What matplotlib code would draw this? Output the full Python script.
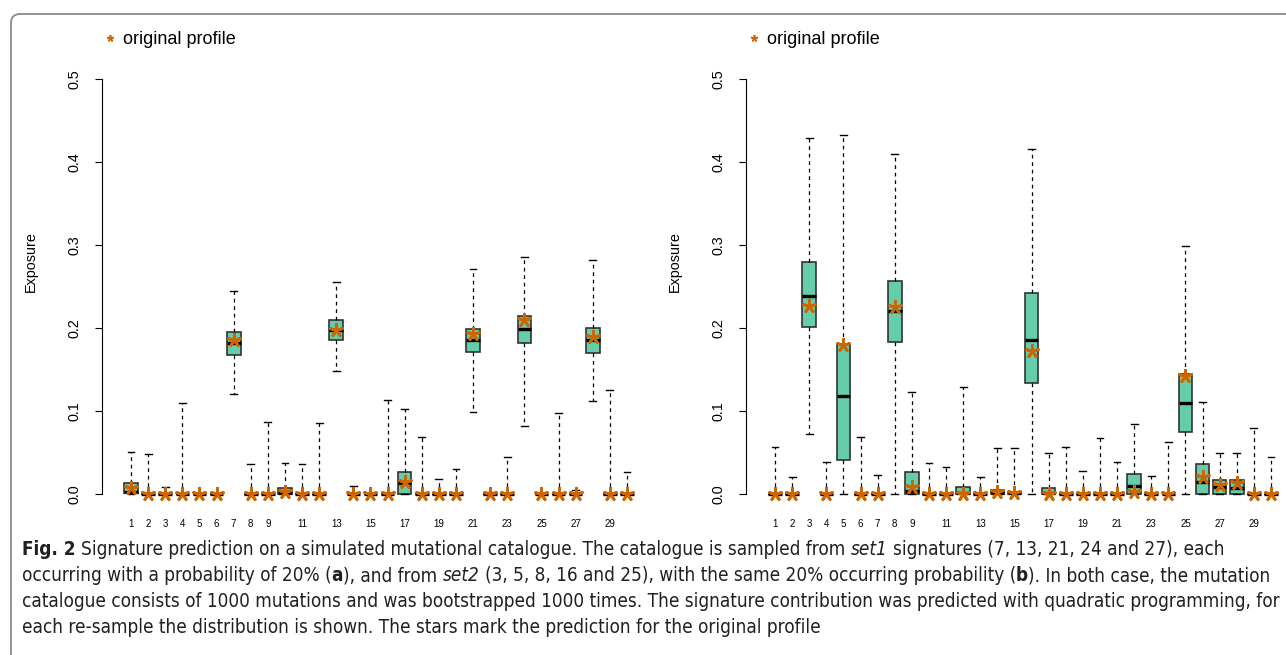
import matplotlib
matplotlib.use("Agg")
import matplotlib.pyplot as plt
from matplotlib.lines import Line2D
from matplotlib.patches import FancyBboxPatch

plt.rcParams["font.family"] = ["Liberation Sans", "DejaVu Sans"]

W, H = 1286, 655

signatures = list(range(1, 31))
xtick_pos = [1, 2, 3, 4, 5, 6, 7, 8, 9, 11, 13, 15, 17, 19, 21, 23, 25, 27, 29]
ytick_pos = [0.0, 0.1, 0.2, 0.3, 0.4, 0.5]

# (a) set1: bootstrap distributions per signature
med_a = [0.002, 0, 0, 0, 0, 0, 0.182, 0, 0, 0.001, 0, 0, 0.197, 0, 0,
         0, 0.013, 0, 0, 0, 0.185, 0, 0, 0.199, 0, 0, 0, 0.185, 0, 0]
q1_a = [0.001, 0, 0, 0, 0, 0, 0.168, 0, 0, 0, 0, 0, 0.185, 0, 0,
        0, 0, 0, 0, 0, 0.171, 0, 0, 0.1825, 0, 0, 0, 0.170, 0, 0]
q3_a = [0.0136, 0, 0, 0, 0, 0, 0.195, 0, 0, 0.007, 0, 0, 0.210, 0, 0,
        0, 0.0265, 0, 0, 0, 0.199, 0, 0, 0.215, 0, 0, 0, 0.2006, 0, 0]
lo_a = [0, 0, 0, 0, 0, 0, 0.121, 0, 0, 0, 0, 0, 0.148, 0, 0,
        0, 0, 0, 0, 0, 0.099, 0, 0, 0.082, 0, 0, 0, 0.112, 0, 0]
hi_a = [0.051, 0.048, 0.008, 0.110, 0, 0, 0.245, 0.036, 0.087, 0.037,
        0.0365, 0.085, 0.256, 0.010, 0, 0.113, 0.102, 0.069, 0.018, 0.030,
        0.271, 0.002, 0.044, 0.285, 0, 0.097, 0.005, 0.282, 0.125, 0.026]
star_a = [0.007, 0, 0, 0, 0, 0, 0.186, 0, 0, 0.002, 0, 0, 0.198, 0, 0,
          0, 0.015, 0, 0, 0, 0.193, 0, 0, 0.2095, 0, 0, 0, 0.189, 0, 0]

# (b) set2
med_b = [0, 0, 0.239, 0, 0.118, 0, 0, 0.220, 0.004, 0, 0, 0.001, 0, 0.001, 0.001,
         0.186, 0.001, 0, 0, 0, 0, 0.010, 0, 0, 0.110, 0.0148, 0.009, 0.007, 0, 0]
q1_b = [0, 0, 0.2008, 0, 0.041, 0, 0, 0.183, 0, 0, 0, 0, 0, 0, 0,
        0.1335, 0, 0, 0, 0, 0, 0, 0, 0, 0.075, 0, 0.0004, 0, 0, 0]
q3_b = [0, 0, 0.280, 0, 0.181, 0, 0, 0.257, 0.027, 0, 0, 0.009, 0, 0.005, 0.003,
        0.2425, 0.0076, 0, 0, 0, 0, 0.0244, 0, 0, 0.145, 0.0365, 0.0164, 0.0168, 0, 0]
lo_b = [0, 0, 0.0717, 0, 0, 0, 0, 0, 0, 0, 0, 0, 0, 0, 0,
        0, 0, 0, 0, 0, 0, 0, 0, 0, 0, 0, 0, 0, 0, 0]
hi_b = [0.057, 0.021, 0.429, 0.0385, 0.432, 0.069, 0.023, 0.410, 0.123, 0.037,
        0.032, 0.129, 0.021, 0.055, 0.055, 0.4156, 0.0497, 0.057, 0.028, 0.068,
        0.038, 0.0846, 0.022, 0.0625, 0.299, 0.1106, 0.050, 0.049, 0.079, 0.045]
star_b = [0, 0, 0.226, 0, 0.179, 0, 0, 0.2257, 0.009, 0, 0, 0, 0, 0.002, 0.001,
          0.172, 0, 0, 0, 0, 0, 0.003, 0, 0, 0.142, 0.020, 0.0104, 0.0128, 0, 0]

BOX_COLOR = "#66CDAA"
STAR_COLOR = "#CD6600"
STAR = (5, 2, 0)


def draw_panel(ax, med, q1, q3, lo, hi, star):
    stats = [dict(med=m, q1=a, q3=b, whislo=l, whishi=h, fliers=[])
             for m, a, b, l, h in zip(med, q1, q3, lo, hi)]
    ax.bxp(stats, positions=signatures, widths=0.8, capwidths=0.4,
           patch_artist=True, showfliers=False,
           boxprops=dict(facecolor=BOX_COLOR, edgecolor="#333333", linewidth=1.2),
           medianprops=dict(color="black", linewidth=2.4, solid_capstyle="butt"),
           whiskerprops=dict(color="black", linewidth=0.9, linestyle=(0, (3, 3))),
           capprops=dict(color="black", linewidth=1.0))
    ax.scatter(signatures, star, marker=STAR, s=80, color=STAR_COLOR,
               linewidths=2.0, zorder=5)
    ax.set_xlim(-0.7, 31.7)
    ax.set_ylim(-0.02, 0.52)
    for side in ["top", "right", "bottom"]:
        ax.spines[side].set_visible(False)
    ax.spines["left"].set_bounds(0, 0.5)
    ax.set_yticks(ytick_pos)
    ax.set_yticklabels([f"{v:.1f}" for v in ytick_pos], rotation=90, va="center")
    ax.tick_params(axis="y", length=5, pad=10, labelsize=10.4)
    ax.set_xticks(xtick_pos)
    ax.set_xticklabels([str(p) for p in xtick_pos])
    ax.tick_params(axis="x", length=0, pad=6, labelsize=7)
    ax.set_ylabel("Exposure", fontsize=10.4)
    ax.yaxis.set_label_coords(-0.115, 0.555)
    handle = Line2D([], [], marker=STAR, linestyle="", color=STAR_COLOR,
                    markersize=5, markeredgewidth=1.2)
    ax.legend([handle], ["original profile"], loc="center left",
              bbox_to_anchor=(0.0, 1.0), frameon=False, fontsize=13,
              handlelength=0.6, handletextpad=0.4, borderaxespad=0,
              borderpad=0)


fig = plt.figure(figsize=(W / 100, H / 100), dpi=100)
ax_a = fig.add_axes([102 / W, (H - 510.6) / H, 554 / W, 448.2 / H])
ax_b = fig.add_axes([746 / W, (H - 510.6) / H, 554 / W, 448.2 / H])
draw_panel(ax_a, med_a, q1_a, q3_a, lo_a, hi_a, star_a)
draw_panel(ax_b, med_b, q1_b, q3_b, lo_b, hi_b, star_b)
# move legends to the top line
ax_a.get_legend().set_bbox_to_anchor((105 / W, (H - 40) / H), transform=fig.transFigure)
ax_b.get_legend().set_bbox_to_anchor((749 / W, (H - 40) / H), transform=fig.transFigure)

# rounded frame around the figure
frame = FancyBboxPatch((11, -30), 1400, H - 14 + 30,
                       boxstyle="round,pad=0,rounding_size=9",
                       transform=None, facecolor="none",
                       edgecolor="#8a8a8a", linewidth=1.3)
fig.add_artist(frame)

# caption with mixed styles, condensed face
cap_font = ["DejaVu Sans"]
cap_stretch = "condensed"
renderer = fig.canvas.get_renderer()


def text_width(s, size, **style):
    t1 = fig.text(0, 0, "|" + s + "|", fontsize=size, family=cap_font,
                  stretch=cap_stretch, **style)
    t2 = fig.text(0, 0, "||", fontsize=size, family=cap_font,
                  stretch=cap_stretch, **style)
    w = t1.get_window_extent(renderer).width - t2.get_window_extent(renderer).width
    t1.remove()
    t2.remove()
    return w


caption = [
    [("Fig. 2", "bold", "normal"),
     (" Signature prediction on a simulated mutational catalogue. The catalogue is sampled from ", "normal", "normal"),
     ("set1", "normal", "italic"),
     (" signatures (7, 13, 21, 24 and 27), each", "normal", "normal")],
    [("occurring with a probability of 20% (", "normal", "normal"),
     ("a", "bold", "normal"),
     ("), and from ", "normal", "normal"),
     ("set2", "normal", "italic"),
     (" (3, 5, 8, 16 and 25), with the same 20% occurring probability (", "normal", "normal"),
     ("b", "bold", "normal"),
     ("). In both case, the mutation", "normal", "normal")],
    [("catalogue consists of 1000 mutations and was bootstrapped 1000 times. The signature "
      "contribution was predicted with quadratic programming, for", "normal", "normal")],
    [("each re-sample the distribution is shown. The stars mark the prediction for the original profile",
      "normal", "normal")],
]

ref_w = text_width(caption[2][0][0], 10)
cap_size = min(10 * (1282 - 22) / ref_w, 14)
baselines = [555, 581, 607, 633]
for line, base in zip(caption, baselines):
    x = 22
    for s, weight, style in line:
        lead = len(s) - len(s.lstrip())
        x0 = x + (text_width(s[:lead], cap_size) if lead else 0)
        fig.text(x0 / W, (H - base) / H, s.strip(), fontsize=cap_size,
                 family=cap_font, stretch=cap_stretch, weight=weight, style=style,
                 color="#231f20", va="baseline", ha="left")
        x += text_width(s, cap_size, weight=weight, style=style)

fig.savefig("out.png", dpi=100)
